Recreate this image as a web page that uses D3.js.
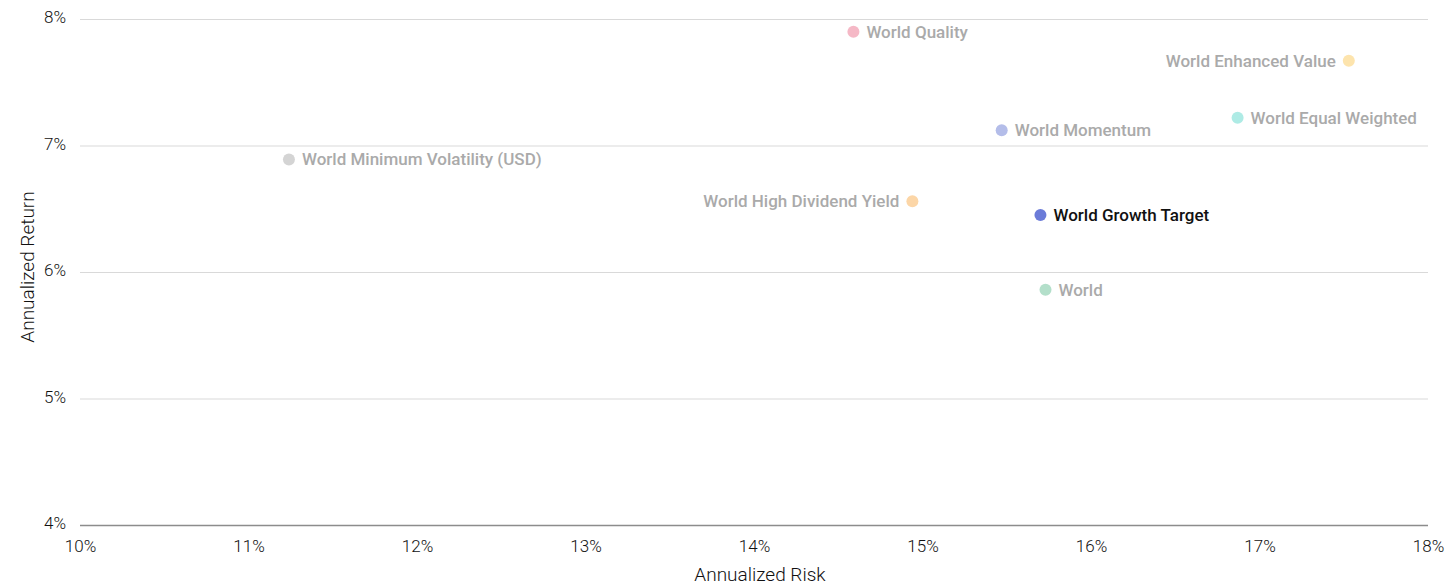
<!DOCTYPE html>
<html>
<head>
<meta charset="utf-8">
<script src="https://cdn.jsdelivr.net/npm/d3@7"></script>
<style>
  body { margin: 0; background: #fff; }
  svg text { font-family: Roboto, sans-serif; }
</style>
</head>
<body>
<div id="chart"></div>
<script>
// index names, risk (x, %) and return (y, %)
var names = ["World Quality", "World Enhanced Value", "World Equal Weighted", "World Momentum",
             "World Minimum Volatility (USD)", "World High Dividend Yield", "World Growth Target", "World"];
var risk = [14.59, 17.53, 16.87, 15.47, 11.24, 14.94, 15.70, 15.73];
var ret = [7.90, 7.67, 7.22, 7.12, 6.89, 6.56, 6.45, 5.86];
var colors = ["#f5b8c6", "#fde4ad", "#aeebe5", "#b4bde9", "#d4d4d4", "#fcd6a7", "#6b7bd8", "#b3dfca"];
var labelLeft = [false, true, false, false, false, true, false, false];
var highlight = "World Growth Target";

var xTicks = [10, 11, 12, 13, 14, 15, 16, 17, 18];
var yTicks = [4, 5, 6, 7, 8];

var margin = {top: 19, right: 19, bottom: 62, left: 80},
    width = 1447 - margin.left - margin.right,
    height = 587 - margin.top - margin.bottom;

var svg = d3.select("#chart")
  .append("svg")
    .attr("width", 1447)
    .attr("height", 587)
  .append("g")
    .attr("transform", "translate(" + margin.left + "," + margin.top + ")");

var x = d3.scaleLinear().domain([10, 18]).range([0, width]);
var y = d3.scaleLinear().domain([4, 8]).range([height, 0]);

// grid lines + y labels
var yAxis = svg.append("g")
  .call(d3.axisLeft(y).tickValues(yTicks).tickSize(-width).tickFormat(function(d){ return d + "%"; }));
yAxis.select(".domain").remove();
yAxis.selectAll(".tick line").attr("stroke", "#d9d9d9");
yAxis.selectAll(".tick").filter(function(d){ return d === 4; }).select("line").attr("stroke", "#8c8c8c").attr("stroke-width", 1.5);
yAxis.selectAll(".tick text")
  .attr("x", -14).attr("dy", "0.22em")
  .style("font-size", "17px").style("font-weight", 300).attr("fill", "#111");

// x labels
var xAxis = svg.append("g")
  .attr("transform", "translate(0," + height + ")")
  .call(d3.axisBottom(x).tickValues(xTicks).tickSize(0).tickFormat(function(d){ return d + "%"; }));
xAxis.select(".domain").remove();
xAxis.selectAll(".tick text")
  .attr("y", 15)
  .style("font-size", "17px").style("font-weight", 300).attr("fill", "#111");

// points
var data = names.map(function(n, i){
  return {name: n, risk: risk[i], ret: ret[i], color: colors[i], left: labelLeft[i]};
});

var pts = svg.append("g").selectAll("g")
  .data(data)
  .enter()
  .append("g")
    .attr("transform", function(d){ return "translate(" + x(d.risk) + "," + y(d.ret) + ")"; });

pts.append("circle")
  .attr("r", 6)
  .style("fill", function(d){ return d.color; });

pts.append("text")
  .attr("x", function(d){ return d.left ? -13 : 13; })
  .attr("dy", "0.35em")
  .attr("text-anchor", function(d){ return d.left ? "end" : "start"; })
  .style("font-size", "17px")
  .style("font-weight", 500)
  .attr("fill", function(d){ return d.name === highlight ? "#111" : "#aaaaaa"; })
  .text(function(d){ return d.name; });

// axis titles
svg.append("text")
  .attr("text-anchor", "middle")
  .attr("x", 680)
  .attr("y", height + 56)
  .style("font-size", "19px").style("font-weight", 300).attr("fill", "#111")
  .text("Annualized Risk");

svg.append("text")
  .attr("text-anchor", "middle")
  .attr("transform", "rotate(-90)")
  .attr("x", -(267 - margin.top))
  .attr("y", -46)
  .style("font-size", "19px").style("font-weight", 300).attr("fill", "#111")
  .text("Annualized Return");
</script>
</body>
</html>
